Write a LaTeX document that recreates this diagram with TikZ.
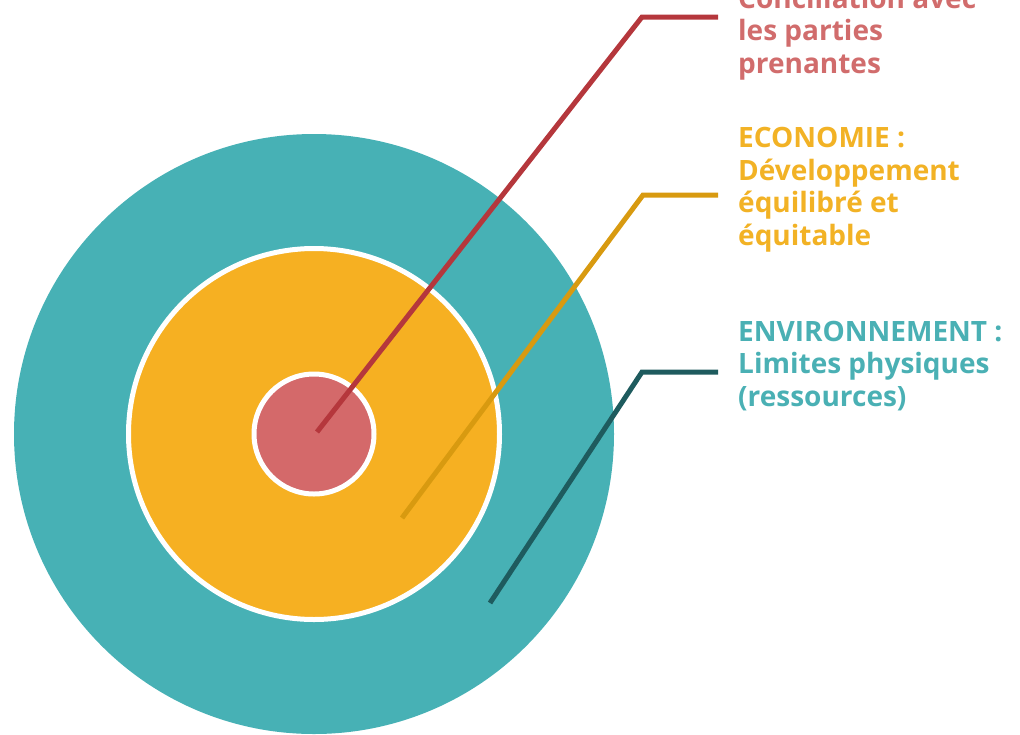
\documentclass[tikz,border=0pt]{standalone}
\usepackage{fontspec}
\setmainfont{Open Sans}
\definecolor{envc}{HTML}{47B1B5}
\definecolor{ecoc}{HTML}{F6B022}
\definecolor{socc}{HTML}{D4696A}
\definecolor{socline}{HTML}{B5373C}
\definecolor{ecoline}{HTML}{D89A10}
\definecolor{envline}{HTML}{1E5B5E}
\definecolor{soctext}{HTML}{D16C6C}
\definecolor{ecotext}{HTML}{F2B225}
\definecolor{envtext}{HTML}{4AB0B4}
\tikzset{
  ring/.style={circle, inner sep=0pt, draw=white, line width=5pt},
  lab/.style={anchor=base west, inner sep=0pt, align=left,
    font=\bfseries\fontsize{28}{32.5}\selectfont},
  leader/.style={line width=5pt, shorten >=20pt}
}
\begin{document}
\begin{tikzpicture}[x=1pt,y=-1pt]
\useasboundingbox (0,0) rectangle (1020,734);
\clip (0,0) rectangle (1020,734);
\node[circle, inner sep=0pt, fill=envc, minimum size=600pt] (env) at (314,434) {};
\node[ring, fill=ecoc, minimum size=371pt] (eco) at (314,434) {};
\node[ring, fill=socc, minimum size=120pt] (soc) at (314,434) {};

\node[lab, text=soctext] (socl) at (738,73) {Conciliation avec\\les parties\\prenantes};
\node[lab, text=ecotext] (ecol) at (738,245) {ECONOMIE :\\Développement\\équilibré et\\équitable};
\node[lab, text=envtext] (envl) at (738,406) {ENVIRONNEMENT :\\Limites physiques\\(ressources)};

\coordinate (s1) at (317,432);
\coordinate (k1) at (642,17);
\coordinate (s2) at (402,518);
\coordinate (k2) at (643,195);
\coordinate (s3) at (490,603);
\coordinate (k3) at (642,372);

\draw[leader, socline] (s1) -- (k1) -- (k1 -| socl.west);
\draw[leader, ecoline] (s2) -- (k2) -- (k2 -| ecol.west);
\draw[leader, envline] (s3) -- (k3) -- (k3 -| envl.west);
\end{tikzpicture}
\end{document}
